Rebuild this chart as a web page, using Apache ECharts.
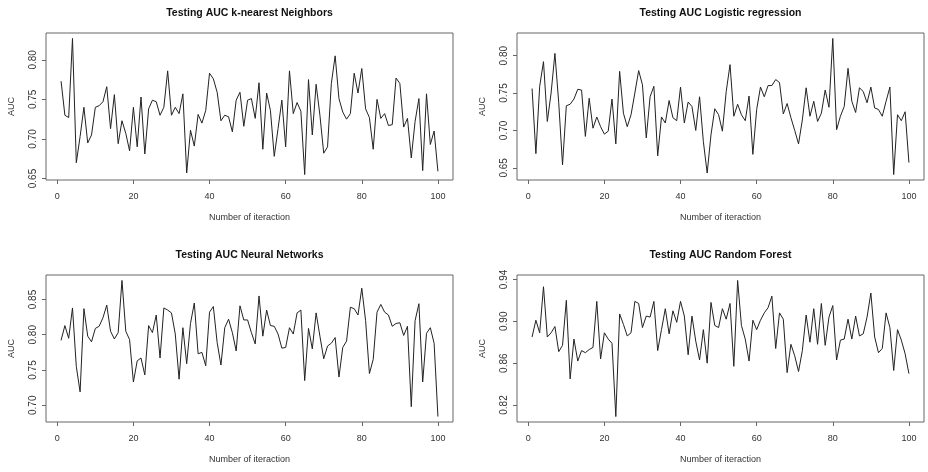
<!DOCTYPE html>
<html>
<head>
<meta charset="utf-8">
<script src="https://cdn.jsdelivr.net/npm/echarts@6/dist/echarts.min.js"></script>
<style>
  html, body { margin: 0; padding: 0; background: #fff; }
  #main { width: 928px; height: 472px; }
</style>
</head>
<body>
<div id="main"></div>
<script>
// AUC per iteration
var knnAuc = [
  0.773,0.730,0.727,0.827,0.670,0.703,0.740,0.695,0.705,0.740,
  0.742,0.747,0.766,0.713,0.756,0.694,0.723,0.707,0.685,0.740,
  0.690,0.753,0.681,0.738,0.749,0.747,0.730,0.740,0.786,0.730,
  0.740,0.732,0.757,0.657,0.711,0.691,0.731,0.720,0.736,0.783,
  0.776,0.759,0.723,0.730,0.728,0.709,0.749,0.759,0.716,0.749,
  0.751,0.726,0.771,0.687,0.758,0.736,0.678,0.713,0.749,0.690,
  0.786,0.732,0.746,0.735,0.655,0.775,0.705,0.769,0.730,0.682,
  0.690,0.770,0.805,0.751,0.734,0.725,0.732,0.783,0.758,0.789,
  0.738,0.727,0.687,0.750,0.726,0.732,0.717,0.718,0.777,0.770,
  0.715,0.726,0.676,0.722,0.751,0.660,0.757,0.693,0.710,0.659
];
var logregAuc = [
  0.756,0.669,0.759,0.792,0.712,0.750,0.803,0.737,0.654,0.733,
  0.735,0.742,0.755,0.754,0.692,0.743,0.703,0.718,0.705,0.695,
  0.699,0.742,0.682,0.779,0.723,0.705,0.721,0.750,0.780,0.761,
  0.690,0.745,0.759,0.666,0.718,0.710,0.740,0.717,0.713,0.758,
  0.710,0.738,0.732,0.700,0.745,0.685,0.643,0.694,0.729,0.721,
  0.699,0.752,0.788,0.719,0.735,0.721,0.713,0.746,0.668,0.728,
  0.758,0.745,0.760,0.760,0.768,0.764,0.722,0.736,0.717,0.700,
  0.682,0.714,0.757,0.719,0.739,0.712,0.723,0.754,0.731,0.823,
  0.701,0.719,0.732,0.783,0.739,0.724,0.757,0.752,0.737,0.758,
  0.730,0.728,0.719,0.739,0.758,0.641,0.721,0.713,0.725,0.657
];
var nnAuc = [
  0.792,0.813,0.795,0.838,0.755,0.719,0.837,0.798,0.790,0.809,
  0.812,0.824,0.842,0.805,0.794,0.803,0.877,0.805,0.793,0.733,
  0.763,0.767,0.743,0.813,0.803,0.828,0.767,0.838,0.835,0.831,
  0.801,0.737,0.810,0.759,0.816,0.845,0.773,0.775,0.756,0.832,
  0.840,0.789,0.757,0.810,0.822,0.803,0.777,0.841,0.821,0.821,
  0.803,0.787,0.855,0.798,0.835,0.813,0.812,0.801,0.781,0.782,
  0.810,0.801,0.831,0.835,0.735,0.809,0.780,0.831,0.798,0.766,
  0.784,0.788,0.796,0.740,0.782,0.791,0.839,0.837,0.828,0.866,
  0.820,0.745,0.765,0.832,0.843,0.832,0.828,0.812,0.816,0.817,
  0.799,0.812,0.698,0.820,0.844,0.733,0.802,0.810,0.788,0.684
];
var rfAuc = [
  0.885,0.901,0.889,0.933,0.885,0.889,0.895,0.871,0.877,0.920,
  0.845,0.883,0.862,0.872,0.870,0.873,0.875,0.919,0.864,0.889,
  0.883,0.879,0.809,0.907,0.897,0.886,0.889,0.919,0.917,0.894,
  0.905,0.904,0.919,0.872,0.892,0.912,0.888,0.910,0.899,0.919,
  0.905,0.868,0.905,0.881,0.863,0.892,0.860,0.918,0.896,0.894,
  0.912,0.902,0.917,0.857,0.939,0.896,0.883,0.862,0.901,0.892,
  0.901,0.908,0.913,0.924,0.874,0.908,0.902,0.851,0.878,0.867,
  0.852,0.872,0.906,0.880,0.912,0.878,0.917,0.877,0.904,0.915,
  0.863,0.882,0.883,0.902,0.883,0.905,0.886,0.888,0.904,0.927,
  0.885,0.870,0.874,0.908,0.894,0.853,0.892,0.882,0.869,0.850
];

var titles = [
  'Testing AUC k-nearest Neighbors',
  'Testing AUC Logistic regression',
  'Testing AUC Neural Networks',
  'Testing AUC Random Forest'
];
var xTicks = [0, 20, 40, 60, 80, 100];
var yTicksKnn = [0.65, 0.70, 0.75, 0.80];
var yTicksLogreg = [0.65, 0.70, 0.75, 0.80];
var yTicksNn = [0.70, 0.75, 0.80, 0.85];
var yTicksRf = [0.82, 0.86, 0.90, 0.94];

var panels = [
  { data: knnAuc, ticks: yTicksKnn, left: 46, top: 33 },
  { data: logregAuc, ticks: yTicksLogreg, left: 517, top: 33 },
  { data: nnAuc, ticks: yTicksNn, left: 46, top: 275 },
  { data: rfAuc, ticks: yTicksRf, left: 517, top: 275 }
];
var W = 407, H = 147;
var textCol = '#333';
var boxCol = '#666';

var myChart = echarts.init(document.getElementById('main'));
var option = {
  backgroundColor: '#fff',
  animation: false,
  title: [], grid: [], xAxis: [], yAxis: [], series: []
};

panels.forEach(function(p, k) {
  // R style range: data range plus 4% each side
  var lo = Math.min.apply(null, p.data), hi = Math.max.apply(null, p.data);
  var pad = (hi - lo) * 0.04;
  var n = p.data.length;
  var xpad = (n - 1) * 0.04;

  option.title.push({
    text: titles[k],
    left: p.left + W / 2,
    top: p.top - 25,
    textAlign: 'center',
    padding: 0,
    textStyle: { fontFamily: 'Liberation Sans', fontSize: 10.5, fontWeight: 'bold', color: '#111' }
  });
  option.grid.push({
    left: p.left, top: p.top, width: W, height: H,
    show: true, borderColor: boxCol, borderWidth: 1, backgroundColor: 'transparent'
  });
  option.xAxis.push({
    type: 'value', gridIndex: k,
    min: 1 - xpad, max: n + xpad,
    name: 'Number of iteraction', nameLocation: 'middle', nameGap: 33,
    nameTextStyle: { fontFamily: 'Liberation Sans', fontSize: 9, color: textCol },
    axisLine: { show: false, onZero: false },
    axisTick: { show: true, length: 4, customValues: xTicks, lineStyle: { color: boxCol } },
    axisLabel: { customValues: xTicks, margin: 12, fontFamily: 'Liberation Sans', fontSize: 9, color: textCol },
    splitLine: { show: false }
  });
  option.yAxis.push({
    type: 'value', gridIndex: k,
    min: lo - pad, max: hi + pad,
    name: 'AUC', nameLocation: 'middle', nameGap: 30, nameRotate: 90,
    nameTextStyle: { fontFamily: 'Liberation Sans', fontSize: 9, color: textCol },
    axisLine: { show: false, onZero: false },
    axisTick: { show: true, length: 4, customValues: p.ticks, lineStyle: { color: boxCol } },
    axisLabel: {
      customValues: p.ticks, rotate: 90, margin: 8,
      fontFamily: 'Liberation Sans', fontSize: 10, color: textCol,
      formatter: function(v) { return v.toFixed(2); }
    },
    splitLine: { show: false }
  });
  option.series.push({
    type: 'line', xAxisIndex: k, yAxisIndex: k,
    data: p.data.map(function(v, i) { return [i + 1, v]; }),
    showSymbol: false, symbol: 'none',
    lineStyle: { color: '#222', width: 1 }
  });
});

myChart.setOption(option);
</script>
</body>
</html>
